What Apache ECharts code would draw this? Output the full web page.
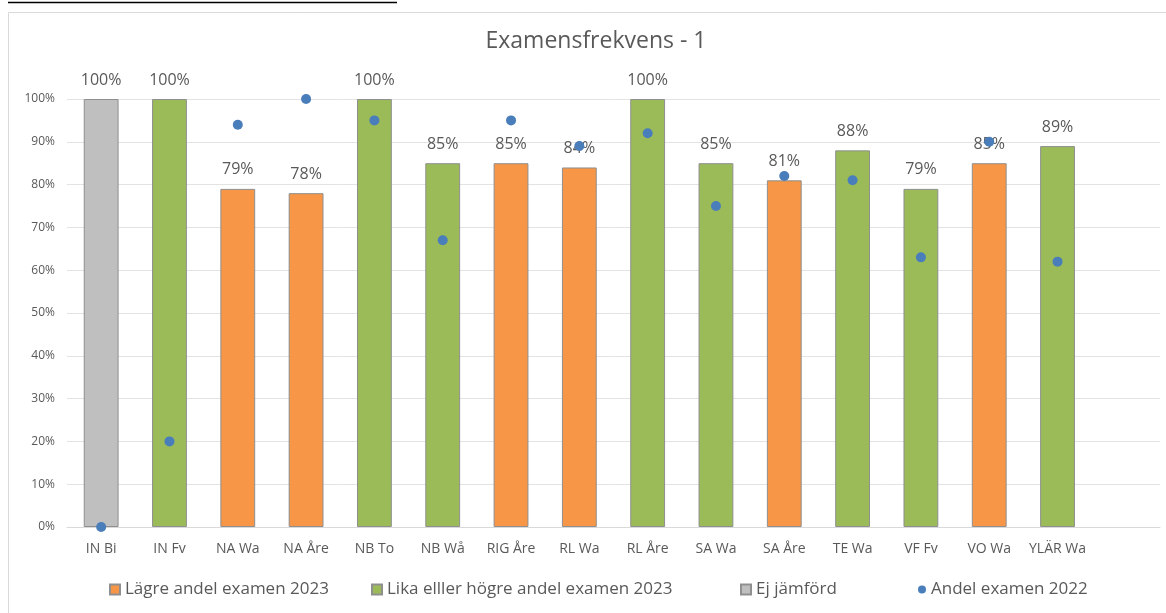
<!DOCTYPE html>
<html>
<head>
<meta charset="utf-8">
<script src="https://cdn.jsdelivr.net/npm/echarts@6/dist/echarts.min.js"></script>
<style>
html, body { margin: 0; padding: 0; background: #fff; }
#myChart { width: 1166px; height: 613px; }
</style>
</head>
<body>
<div id="myChart"></div>
<script>
// data
var categories = ['IN Bi', 'IN Fv', 'NA Wa', 'NA Åre', 'NB To', 'NB Wå', 'RIG Åre', 'RL Wa', 'RL Åre', 'SA Wa', 'SA Åre', 'TE Wa', 'VF Fv', 'VO Wa', 'YLÄR Wa'];
// 2023 share; group: 'l' = lower, 'h' = same or higher, 'n' = not compared
var exam2023 = [100, 100, 79, 78, 100, 85, 85, 84, 100, 85, 81, 88, 79, 85, 89];
var group2023 = ['n', 'h', 'l', 'l', 'h', 'h', 'l', 'l', 'h', 'h', 'l', 'h', 'h', 'l', 'h'];
var exam2022 = [0, 20, 94, 100, 95, 67, 95, 89, 92, 75, 82, 81, 63, 90, 62];
var yTicks = [0, 10, 20, 30, 40, 50, 60, 70, 80, 90, 100];

var names = {
	l: 'Lägre andel examen 2023',
	h: 'Lika elller högre andel examen 2023',
	n: 'Ej jämförd',
	dot: 'Andel examen 2022'
};
var colors = { l: '#F79646', h: '#9BBB59', n: '#BFBFBF', dot: '#4A7EBB' };
var font = 'Open Sans';
var textColor = '#595959';

// Excel leaves one empty slot at the right end of the axis
var axisCats = categories.concat(['']);

function barSeries(key) {
	return {
		name: names[key],
		type: 'bar',
		stack: 'exam',
		barWidth: '51%',
		data: exam2023.map(function (v, i) { return group2023[i] === key ? v : '-'; }),
		itemStyle: { color: colors[key], borderColor: '#8f8f8f', borderWidth: 1 },
		label: {
			show: true,
			position: 'top',
			distance: 11,
			formatter: '{c}%',
			fontFamily: font,
			fontSize: 16,
			color: textColor
		},
		z: 2
	};
}

function legendAt(name, left, icon) {
	return {
		data: [{ name: name, icon: icon }],
		left: left,
		top: 576,
		itemWidth: icon === 'circle' ? 8 : 10,
		itemHeight: icon === 'circle' ? 8 : 10,
		itemGap: 4,
		textStyle: { fontFamily: font, fontSize: 17, color: textColor },
		selectedMode: false
	};
}

var myChart = echarts.init(document.getElementById('myChart'));

var option = {
	animation: false,
	title: {
		text: 'Examensfrekvens - 1',
		left: 591,
		top: 25,
		textAlign: 'center',
		textStyle: { fontFamily: font, fontSize: 23, fontWeight: 'normal', color: textColor }
	},
	graphic: [
		{
			type: 'rect',
			shape: { x: 8.5, y: 12.5, width: 1200, height: 700 },
			style: { fill: null, stroke: '#d9d9d9', lineWidth: 1 },
			silent: true,
			z: -10
		},
		{
			type: 'line',
			shape: { x1: 8, y1: 2.5, x2: 397, y2: 2.5 },
			style: { stroke: '#000', lineWidth: 1.5 }
		}
	],
	legend: [
		legendAt(names.l, 104, 'rect'),
		legendAt(names.h, 366, 'rect'),
		legendAt(names.n, 735, 'rect'),
		legendAt(names.dot, 913, 'circle')
	],
	grid: { left: 67, right: 6, top: 99, bottom: 86 },
	xAxis: {
		type: 'category',
		data: axisCats,
		axisTick: { show: false },
		axisLine: { lineStyle: { color: '#d9d9d9', width: 1 } },
		axisLabel: { fontFamily: font, fontSize: 14, color: textColor, margin: 15, interval: 0 }
	},
	yAxis: {
		type: 'value',
		min: yTicks[0],
		max: yTicks[yTicks.length - 1],
		interval: 10,
		axisLine: { show: false },
		axisTick: { show: false },
		splitLine: { lineStyle: { color: '#e3e3e3', width: 1 } },
		axisLabel: { fontFamily: font, fontSize: 12, color: textColor, margin: 12, formatter: '{value}%' }
	},
	series: [
		barSeries('l'),
		barSeries('h'),
		barSeries('n'),
		{
			name: names.dot,
			type: 'scatter',
			data: exam2022,
			symbol: 'circle',
			symbolSize: 10,
			itemStyle: { color: colors.dot, opacity: 1 },
			z: 5
		}
	]
};

myChart.setOption(option);
</script>
</body>
</html>
